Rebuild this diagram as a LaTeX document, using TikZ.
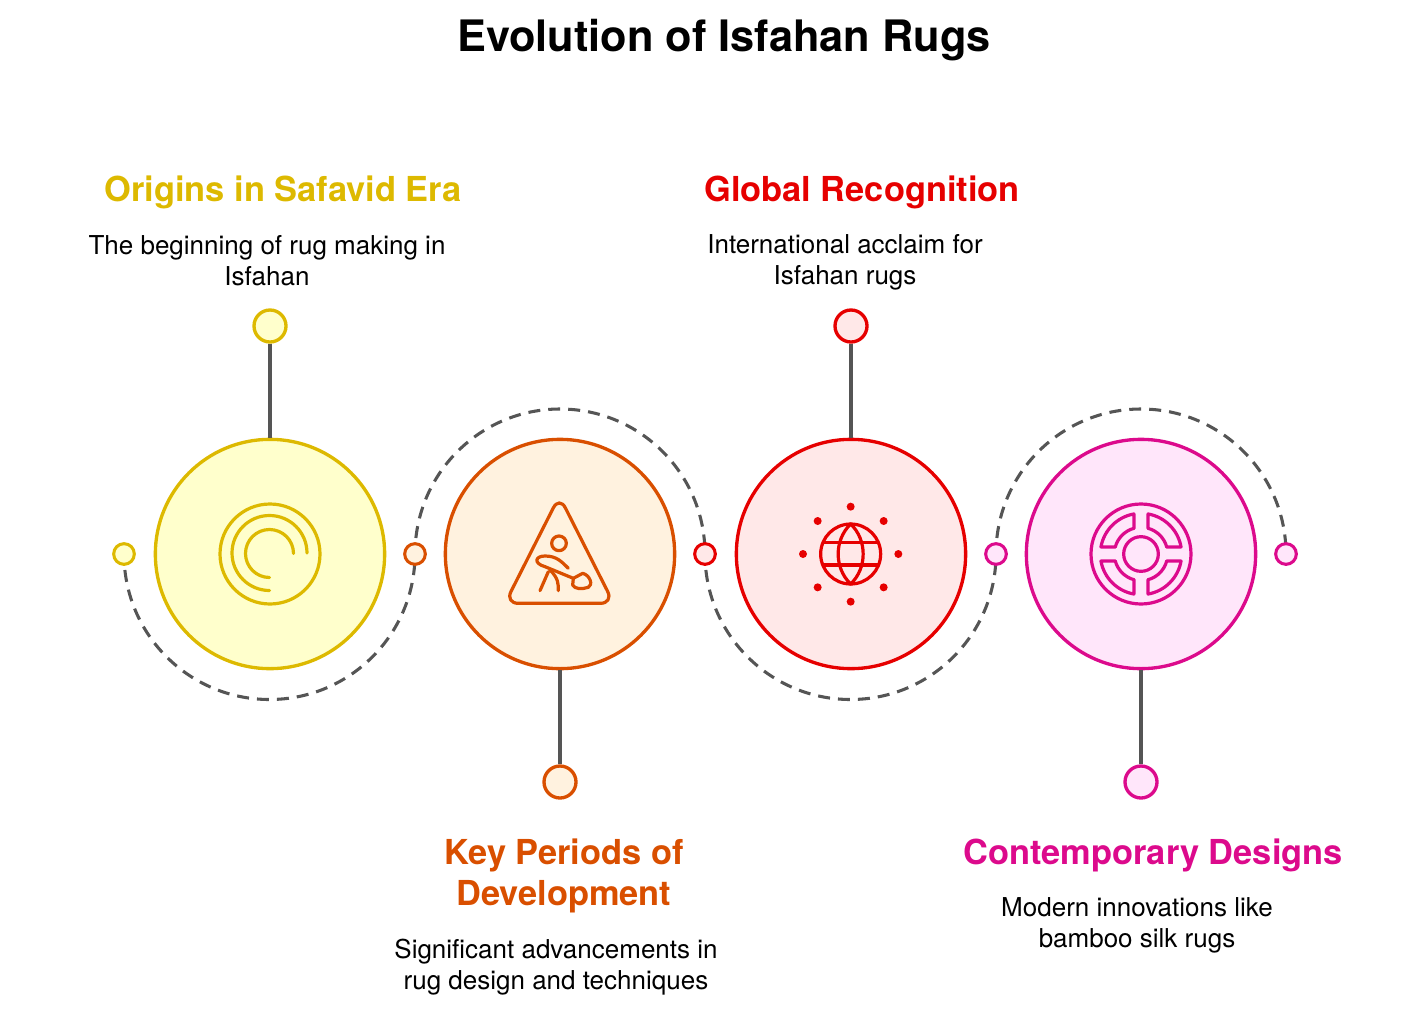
\documentclass[tikz,border=0pt]{standalone}
\usepackage{fontspec}
\setmainfont{TeX Gyre Heros}
\usetikzlibrary{backgrounds}
\definecolor{cy}{HTML}{DDB900}\definecolor{fy}{HTML}{FFFFCC}
\definecolor{co}{HTML}{D94F00}\definecolor{fo}{HTML}{FFF2DF}
\definecolor{cr}{HTML}{E60000}\definecolor{fr}{HTML}{FFE8E8}
\definecolor{cm}{HTML}{DC0A8C}\definecolor{fm}{HTML}{FFE6FA}
\definecolor{gl}{HTML}{555555}
\tikzset{
 big/.style={circle,draw=#1,line width=2.5pt,minimum size=172pt,inner sep=0pt},
 tip/.style={circle,draw=#1,line width=2.5pt,minimum size=24pt,inner sep=0pt},
 joint/.style={circle,draw=#1,line width=2.3pt,minimum size=15.5pt,inner sep=0pt},
 stem/.style={draw=gl,line width=2.3pt},
 dashline/.style={draw=gl,line width=2.3pt,dash pattern=on 9pt off 6pt,dash phase=3pt},
 head/.style={font=\fontsize{25.8pt}{30.6pt}\selectfont\bfseries,text=#1,align=center,inner sep=0pt},
 body/.style={font=\fontsize{19.5pt}{23.2pt}\selectfont,text=black,align=center,inner sep=0pt},
 ico/.style={draw=#1,line width=2.4pt,line cap=round,line join=round},
 zoomed/.style={x=0.25pt,y=-0.25pt},
}
\begin{document}
\begin{tikzpicture}[x=0.75pt,y=-0.75pt]
\useasboundingbox (0,0) rectangle (1411,1021);
\node[font=\fontsize{32.5pt}{36pt}\selectfont\bfseries,inner sep=0pt] (title) at (724,40) {Evolution of Isfahan Rugs};
% main circles
\node[big=cy,fill=fy] (c1) at (270,554) {};
\node[big=co,fill=fo] (c2) at (560,554) {};
\node[big=cr,fill=fr] (c3) at (851,554) {};
\node[big=cm,fill=fm] (c4) at (1141,554) {};
% tips
\node[tip=cy,fill=fy] (t1) at (270,326) {};
\node[tip=co,fill=fo] (t2) at (560,782) {};
\node[tip=cr,fill=fr] (t3) at (851,326) {};
\node[tip=cm,fill=fm] (t4) at (1141,782) {};
\draw[stem] (t1) -- (c1);
\draw[stem] (t2) -- (c2);
\draw[stem] (t3) -- (c3);
\draw[stem] (t4) -- (c4);
% joints
\node[joint=cy,fill=fy] (j1) at (124,554) {};
\node[joint=co,fill=fo] (j2) at (415,554) {};
\node[joint=cr,fill=fr] (j3) at (705,554) {};
\node[joint=cm,fill=fm] (j4) at (996,554) {};
\node[joint=cm,fill=fm] (j5) at (1286,554) {};
\begin{scope}[on background layer]
\draw[dashline] (j1.center) arc[start angle=180,end angle=0,radius=145.5];
\draw[dashline] (j2.center) arc[start angle=180,end angle=360,radius=145];
\draw[dashline] (j3.center) arc[start angle=180,end angle=0,radius=145.5];
\draw[dashline] (j4.center) arc[start angle=180,end angle=360,radius=145];
\end{scope}
% icon 1
\begin{scope}[ico=cy]
\draw (c1.center) circle[radius=50];
\draw (307,553) arc[start angle=0,end angle=-270,radius=37.5];
\draw (293.5,553.5) arc[start angle=0,end angle=-270,radius=24];
\end{scope}
% icon 2
\begin{scope}[shift={(490,490)},zoomed,ico=co]
\draw[rounded corners=10pt] (208,340) -- (371,340) -- (208,18) -- (45,340) -- cycle;
\draw (207,160) circle[radius=22];
\draw (235,235) .. controls (215,215) and (200,198) .. (165,198) .. controls (135,198) and (130,220) .. (165,230) -- (250,265);
\draw (150,302) -- (175,245);
\draw (180,240) .. controls (205,265) and (205,280) .. (205,302);
\draw (250,265) -- (278,250) .. controls (300,255) and (310,285) .. (295,292) .. controls (275,298) and (255,298) .. (248,285) -- cycle;
\end{scope}
% icon 3
\begin{scope}[shift={(780,490)},zoomed,ico=cr]
\draw (212,192) circle[radius=90];
\draw (212,102) .. controls (162,150) and (162,234) .. (212,282) .. controls (262,234) and (262,150) .. (212,102) -- cycle;
\draw (130,157) -- (294,157);
\draw (130,225) -- (294,225);
\foreach \dx/\dy in {212/50,113/93,311/93,69/192,355/192,113/292,311/292,212/335}
 \fill[cr] (\dx,\dy) circle[radius=12];
\end{scope}
% icon 4
\begin{scope}[shift={(1070,490)},zoomed,ico=cm]
\draw (213,192) circle[radius=150];
\draw (213,192) circle[radius=52];
\foreach \a in {0,90,180,270}
 \draw ([shift={(213,192)}]\a+10:122) arc[start angle=\a+10,end angle=\a+80,radius=122]
   -- ([shift={(213,192)}]\a+75:80) arc[start angle=\a+75,end angle=\a+15,radius=80] -- cycle;
\end{scope}
% text
\node[head=cy] (h1) at (283,192) {Origins in Safavid Era};
\node[body] (b1) at (267,260.5) {The beginning of rug making in\\Isfahan};
\node[head=cr] (h3) at (862,192) {Global Recognition};
\node[body] (b3) at (845,262) {International acclaim for\\Isfahan rugs};
\node[head=co] (h2) at (564,876) {Key Periods of\\Development};
\node[body] (b2) at (556,967) {Significant advancements in\\rug design and techniques};
\node[head=cm] (h4) at (1153,855) {Contemporary Designs};
\node[body] (b4) at (1137,925) {Modern innovations like\\bamboo silk rugs};
\end{tikzpicture}
\end{document}
